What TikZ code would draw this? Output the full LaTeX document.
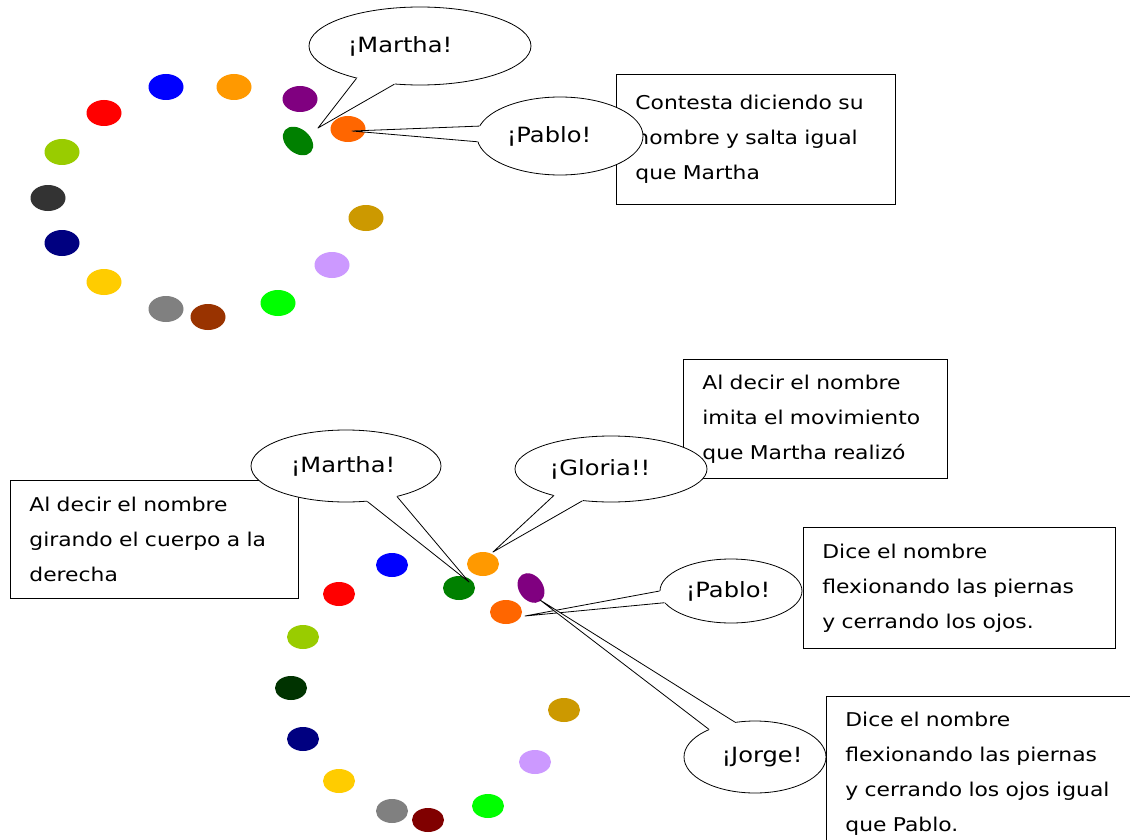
\documentclass[tikz,border=0pt]{standalone}
\usepackage{fontspec}
\setmainfont[FakeStretch=1.15]{DejaVu Sans}
\usetikzlibrary{shapes.geometric,calc}
\definecolor{cBlue}{HTML}{0000FF}
\definecolor{cOrange}{HTML}{FF9900}
\definecolor{cPurple}{HTML}{800080}
\definecolor{cGreen}{HTML}{008000}
\definecolor{cOrRed}{HTML}{FF6600}
\definecolor{cRed}{HTML}{FF0000}
\definecolor{cYGreen}{HTML}{99CC00}
\definecolor{cDGray}{HTML}{333333}
\definecolor{cNavy}{HTML}{000080}
\definecolor{cGold}{HTML}{FFCC00}
\definecolor{cGray}{HTML}{808080}
\definecolor{cBrown}{HTML}{993300}
\definecolor{cBGreen}{HTML}{00FF00}
\definecolor{cLav}{HTML}{CC99FF}
\definecolor{cDGold}{HTML}{CC9900}
\definecolor{cMaroon}{HTML}{800000}
\definecolor{cDGreen}{HTML}{003300}
\tikzset{
  dot/.style={ellipse, minimum width=35pt, minimum height=26pt, inner sep=0pt, fill=#1},
  sdot/.style={ellipse, minimum width=32pt, minimum height=24pt, inner sep=0pt, fill=#1},
  bubble/.style={ellipse, draw, fill=white, line width=0.8pt, inner sep=0pt, font=\fontsize{21}{24}\selectfont},
  textbox/.style={draw, fill=white, line width=0.8pt, align=left, inner xsep=19pt, inner ysep=0pt,
    font=\fontsize{19}{35}\selectfont, anchor=north west},
  tailline/.style={line width=0.8pt, line join=round}
}
\newcommand\bubtail[4]{%
  \fill[white] (#1.#2) -- (#4) -- (#1.#3) -- ($(#1.#3)!0.15!(#1.center)$) -- ($(#1.#2)!0.15!(#1.center)$) -- cycle;
  \draw[tailline] (#1.#2) -- (#4) -- (#1.#3);
}
\newcommand\padR[1]{\rule{#1}{0pt}}
\begin{document}
\begin{tikzpicture}[x=1pt,y=-1pt]
\useasboundingbox (0,0) rectangle (1130,840);
\fill[white] (0,0) rectangle (1130,840);
% top circle
\node[dot=cBlue] (t1) at (166,87) {};
\node[dot=cOrange] (t2) at (234,87) {};
\node[dot=cPurple] (t3) at (300,99) {};
\node[dot=cGreen, minimum width=34pt, minimum height=24pt, rotate=-40] (t4) at (298,141) {};
\node[dot=cOrRed] (t5) at (348,129) {};
\node[dot=cRed] (t6) at (104,113) {};
\node[dot=cYGreen] (t7) at (62,152) {};
\node[dot=cDGray] (t8) at (48,198) {};
\node[dot=cNavy] (t9) at (62,243) {};
\node[dot=cGold] (t10) at (104,282) {};
\node[dot=cGray] (t11) at (166,309) {};
\node[dot=cBrown] (t12) at (208,317) {};
\node[dot=cBGreen] (t13) at (278,303) {};
\node[dot=cLav] (t14) at (332,265) {};
\node[dot=cDGold] (t15) at (366,218) {};
% bottom circle
\node[sdot=cBlue] (b1) at (392,565) {};
\node[sdot=cOrange] (b2) at (483,564) {};
\node[sdot=cGreen] (b3) at (459,588) {};
\node[sdot=cPurple, rotate=-55] (b4) at (531,588) {};
\node[sdot=cOrRed] (b5) at (506,612) {};
\node[sdot=cRed] (b6) at (339,594) {};
\node[sdot=cYGreen] (b7) at (303,637) {};
\node[sdot=cDGreen] (b8) at (291,688) {};
\node[sdot=cNavy] (b9) at (303,739) {};
\node[sdot=cGold] (b10) at (339,781) {};
\node[sdot=cGray] (b11) at (392,811) {};
\node[sdot=cMaroon] (b12) at (428,820) {};
\node[sdot=cBGreen] (b13) at (488,806) {};
\node[sdot=cLav] (b14) at (535,762) {};
\node[sdot=cDGold] (b15) at (564,710) {};
% boxes
\node[textbox, text width=241pt, minimum height=130pt] (box1) at (616,74)
  {Contesta diciendo su\\nombre y salta igual\\que Martha};
\node[textbox, text width=226pt, minimum height=119pt] (box2) at (683,359)
  {Al decir el nombre\\imita el movimiento\\que Martha realizó};
\node[textbox, text width=250pt, minimum height=118pt] (box3) at (10,480)
  {Al decir el nombre\\girando el cuerpo a la\\derecha};
\node[textbox, text width=274pt, minimum height=121pt] (box4) at (803,527)
  {Dice el nombre\\flexionando las piernas\\y cerrando los ojos.};
\node[textbox, text width=282pt, minimum height=155pt] (box5) at (826,696)
  {Dice el nombre\\flexionando las piernas\\y cerrando los ojos igual\\que Pablo.};
% bubbles
\node[bubble, minimum width=222pt, minimum height=78pt] (mt) at (420,46) {¡Martha!\padR{40pt}};
\bubtail{mt}{207}{236}{$(t4)+(20,-13)$}
\node[bubble, minimum width=166pt, minimum height=78pt] (pt) at (560,136) {¡Pablo!\padR{22pt}};
\bubtail{pt}{173}{184}{$(t5)+(4,2)$}
\node[bubble, minimum width=190pt, minimum height=72pt] (mb) at (346,466) {¡Martha!\padR{6pt}};
\bubtail{mb}{301}{329}{$(b3)+(10,-6)$}
\node[bubble, minimum width=192pt, minimum height=66pt] (gb) at (611,469) {¡Gloria!!\padR{22pt}};
\bubtail{gb}{205}{228}{$(b2)+(10,-12)$}
\node[bubble, minimum width=142pt, minimum height=64pt] (pb) at (731,591) {¡Pablo!\padR{6pt}};
\bubtail{pb}{180}{190}{$(b5)+(19,4)$}
\node[bubble, minimum width=142pt, minimum height=72pt] (jb) at (755,757) {\hspace{14pt}¡Jorge!};
\bubtail{jb}{149}{120}{$(b4)+(9,12)$}
\end{tikzpicture}
\end{document}
